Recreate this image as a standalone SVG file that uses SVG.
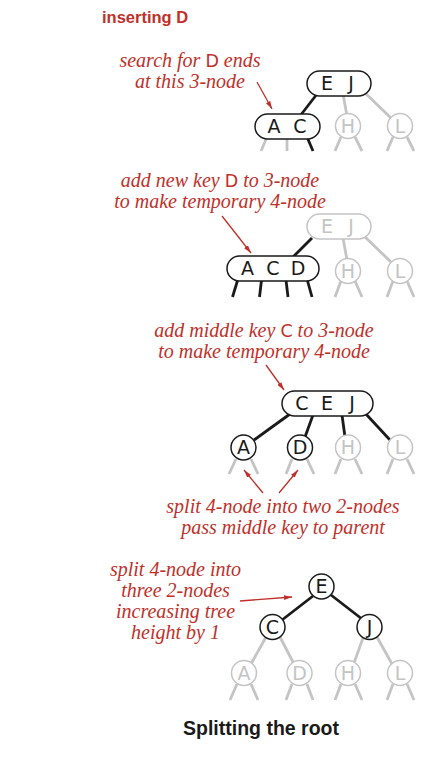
<svg xmlns="http://www.w3.org/2000/svg" width="432" height="760" viewBox="0 0 432 760">
<style>
.bg{fill:#ffffff}
.nb{fill:#ffffff;stroke:#1a1a1a;stroke-width:1.5}
.ng{fill:#ffffff;stroke:#c4c4c4;stroke-width:1.5}
.kb{font-family:"DejaVu Sans",sans-serif;font-size:19px;fill:#1a1a1a;text-anchor:middle}
.kg{font-family:"DejaVu Sans",sans-serif;font-size:19px;fill:#c4c4c4;text-anchor:middle}
.eb{stroke:#1a1a1a;stroke-width:2.8;fill:none}
.eg{stroke:#c4c4c4;stroke-width:2.8;fill:none}
.ann{font-family:"Liberation Serif",serif;font-style:italic;font-size:20px;fill:#c0302a;text-anchor:middle}
.key{font-family:"DejaVu Sans",sans-serif;font-style:normal;font-size:17.5px}
.arr{stroke:#c0302a;stroke-width:1.3;fill:none;marker-end:url(#ah)}
.title{font-family:"Liberation Sans",sans-serif;font-weight:bold;font-size:16.5px;fill:#c0302a}
.cap{font-family:"Liberation Sans",sans-serif;font-weight:bold;font-size:19.5px;fill:#1a1a1a;text-anchor:middle}
</style>
<defs>
<marker id="ah" viewBox="0 0 10 6" refX="10" refY="3" markerWidth="8" markerHeight="5" markerUnits="userSpaceOnUse" orient="auto">
<path d="M0,0 L10,3 L0,6 Z" fill="#c0302a"/>
</marker>
</defs>
<rect class="bg" x="0" y="0" width="432" height="760"/>
<text class="title" x="102" y="23">inserting D</text>

<g id="connectors">
<!-- panel 1 -->
<line class="eb" x1="317" y1="94" x2="300" y2="116"/>
<line class="eg" x1="343" y1="94" x2="347" y2="116"/>
<line class="eg" x1="364" y1="92" x2="391" y2="118"/>
<line class="eg" x1="267" y1="137" x2="261" y2="151"/>
<line class="eg" x1="287" y1="138" x2="287" y2="151"/>
<line class="eb" x1="307" y1="137" x2="313" y2="151"/>
<line class="eg" x1="341" y1="137" x2="335" y2="151"/>
<line class="eg" x1="355" y1="137" x2="362" y2="151"/>
<line class="eg" x1="393" y1="137" x2="387" y2="151"/>
<line class="eg" x1="407" y1="137" x2="414" y2="151"/>
<!-- panel 2 -->
<line class="eb" x1="312" y1="238" x2="292" y2="258"/>
<line class="eg" x1="343" y1="238" x2="347" y2="260"/>
<line class="eg" x1="364" y1="236" x2="391" y2="262"/>
<line class="eb" x1="238" y1="279" x2="232.5" y2="297"/>
<line class="eb" x1="261.5" y1="280" x2="259.5" y2="297"/>
<line class="eb" x1="286" y1="280" x2="288" y2="297"/>
<line class="eb" x1="307" y1="279" x2="312" y2="297"/>
<line class="eg" x1="341" y1="281" x2="335" y2="297"/>
<line class="eg" x1="355" y1="281" x2="362" y2="297"/>
<line class="eg" x1="393" y1="281" x2="387" y2="297"/>
<line class="eg" x1="407" y1="281" x2="414" y2="297"/>
<!-- panel 3 -->
<line class="eb" x1="290" y1="414" x2="254" y2="440"/>
<line class="eb" x1="313" y1="415" x2="305" y2="437"/>
<line class="eb" x1="342" y1="415" x2="345" y2="437"/>
<line class="eb" x1="365" y1="413" x2="390" y2="440"/>
<line class="eg" x1="236" y1="459" x2="229" y2="474"/>
<line class="eg" x1="251" y1="459" x2="258" y2="474"/>
<line class="eg" x1="292" y1="459" x2="286" y2="474"/>
<line class="eg" x1="307" y1="459" x2="314" y2="474"/>
<line class="eg" x1="341" y1="459" x2="335" y2="474"/>
<line class="eg" x1="355" y1="459" x2="362" y2="474"/>
<line class="eg" x1="393" y1="459" x2="387" y2="474"/>
<line class="eg" x1="407" y1="459" x2="414" y2="474"/>
<!-- panel 4 -->
<line class="eb" x1="313" y1="596" x2="282" y2="620"/>
<line class="eb" x1="331" y1="595" x2="362" y2="619"/>
<line class="eg" x1="266" y1="637" x2="251" y2="664"/>
<line class="eg" x1="280" y1="637" x2="294" y2="664"/>
<line class="eg" x1="363" y1="638" x2="354" y2="663"/>
<line class="eg" x1="377" y1="637" x2="392" y2="664"/>
<line class="eg" x1="237" y1="684" x2="230" y2="700"/>
<line class="eg" x1="251" y1="684" x2="258" y2="700"/>
<line class="eg" x1="292" y1="684" x2="286" y2="700"/>
<line class="eg" x1="307" y1="684" x2="313" y2="700"/>
<line class="eg" x1="341" y1="684" x2="335" y2="700"/>
<line class="eg" x1="355" y1="684" x2="362" y2="700"/>
<line class="eg" x1="393" y1="684" x2="387" y2="700"/>
<line class="eg" x1="407" y1="684" x2="414" y2="700"/>
<!-- annotation arrows -->
<line class="arr" x1="257" y1="82" x2="272" y2="109"/>
<line class="arr" x1="222" y1="216" x2="251" y2="253"/>
<line class="arr" x1="266" y1="365" x2="284" y2="390"/>
<line class="arr" x1="263" y1="493" x2="244" y2="470"/>
<line class="arr" x1="279" y1="493" x2="298" y2="470"/>
<line class="arr" x1="240" y1="601" x2="292" y2="597"/>
</g>

<!-- panel 1 nodes -->
<g id="p1-EJ"><rect class="nb" x="307" y="71" width="64" height="25" rx="12.5"/><text class="kb" x="327" y="90.3">E</text><text class="kb" x="351" y="90.3">J</text></g>
<g id="p1-AC"><rect class="nb" x="255" y="114" width="65" height="25" rx="12.5"/><text class="kb" x="274" y="133.3">A</text><text class="kb" x="300" y="133.3">C</text></g>
<g id="p1-H"><circle class="ng" cx="348" cy="126" r="12.5"/><text class="kg" x="348" y="132.8">H</text></g>
<g id="p1-L"><circle class="ng" cx="400" cy="126" r="12.5"/><text class="kg" x="400" y="132.8">L</text></g>

<!-- panel 2 nodes -->
<g id="p2-EJ"><rect class="ng" x="307" y="214" width="64" height="25" rx="12.5"/><text class="kg" x="327" y="233.3">E</text><text class="kg" x="351" y="233.3">J</text></g>
<g id="p2-ACD"><rect class="nb" x="227" y="256" width="92" height="25" rx="12.5"/><text class="kb" x="247.5" y="275.3">A</text><text class="kb" x="273" y="275.3">C</text><text class="kb" x="298" y="275.3">D</text></g>
<g id="p2-H"><circle class="ng" cx="348" cy="271" r="12.5"/><text class="kg" x="348" y="277.8">H</text></g>
<g id="p2-L"><circle class="ng" cx="400" cy="271" r="12.5"/><text class="kg" x="400" y="277.8">L</text></g>

<!-- panel 3 nodes -->
<g id="p3-CEJ"><rect class="nb" x="282" y="391" width="91" height="25" rx="12.5"/><text class="kb" x="302" y="410.3">C</text><text class="kb" x="327" y="410.3">E</text><text class="kb" x="352" y="410.3">J</text></g>
<g id="p3-A"><circle class="nb" cx="243.5" cy="447.5" r="12.5"/><text class="kb" x="243.5" y="454.3">A</text></g>
<g id="p3-D"><circle class="nb" cx="300" cy="447.5" r="12.5"/><text class="kb" x="300" y="454.3">D</text></g>
<g id="p3-H"><circle class="ng" cx="348" cy="447.5" r="12.5"/><text class="kg" x="348" y="454.3">H</text></g>
<g id="p3-L"><circle class="ng" cx="400" cy="447.5" r="12.5"/><text class="kg" x="400" y="454.3">L</text></g>

<!-- panel 4 nodes -->
<g id="p4-E"><circle class="nb" cx="321.5" cy="586.5" r="12.5"/><text class="kb" x="321.5" y="593.3">E</text></g>
<g id="p4-C"><circle class="nb" cx="272.5" cy="627" r="12.5"/><text class="kb" x="272.5" y="633.8">C</text></g>
<g id="p4-J"><circle class="nb" cx="369.5" cy="627" r="12.5"/><text class="kb" x="369.5" y="633.8">J</text></g>
<g id="p4-A"><circle class="ng" cx="244" cy="673" r="12.5"/><text class="kg" x="244" y="679.8">A</text></g>
<g id="p4-D"><circle class="ng" cx="299.5" cy="673" r="12.5"/><text class="kg" x="299.5" y="679.8">D</text></g>
<g id="p4-H"><circle class="ng" cx="348" cy="673" r="12.5"/><text class="kg" x="348" y="679.8">H</text></g>
<g id="p4-L"><circle class="ng" cx="400" cy="673" r="12.5"/><text class="kg" x="400" y="679.8">L</text></g>

<!-- annotations -->
<text class="ann" x="190" y="67">search for <tspan class="key">D</tspan> ends<tspan x="190" y="88">at this 3-node</tspan></text>
<text class="ann" x="220" y="186.5">add new key <tspan class="key">D</tspan> to 3-node<tspan x="220" y="207.5">to make temporary 4-node</tspan></text>
<text class="ann" x="264" y="336.5">add middle key <tspan class="key">C</tspan> to 3-node<tspan x="264" y="357.5">to make temporary 4-node</tspan></text>
<text class="ann" x="283" y="512.5">split 4-node into two 2-nodes<tspan x="283" y="533.5">pass middle key to parent</tspan></text>
<text class="ann" x="175.5" y="576">split 4-node into<tspan x="175.5" y="597">three 2-nodes</tspan><tspan x="175.5" y="618">increasing tree</tspan><tspan x="175.5" y="639">height by 1</tspan></text>

<text class="cap" x="261" y="735">Splitting the root</text>
</svg>
